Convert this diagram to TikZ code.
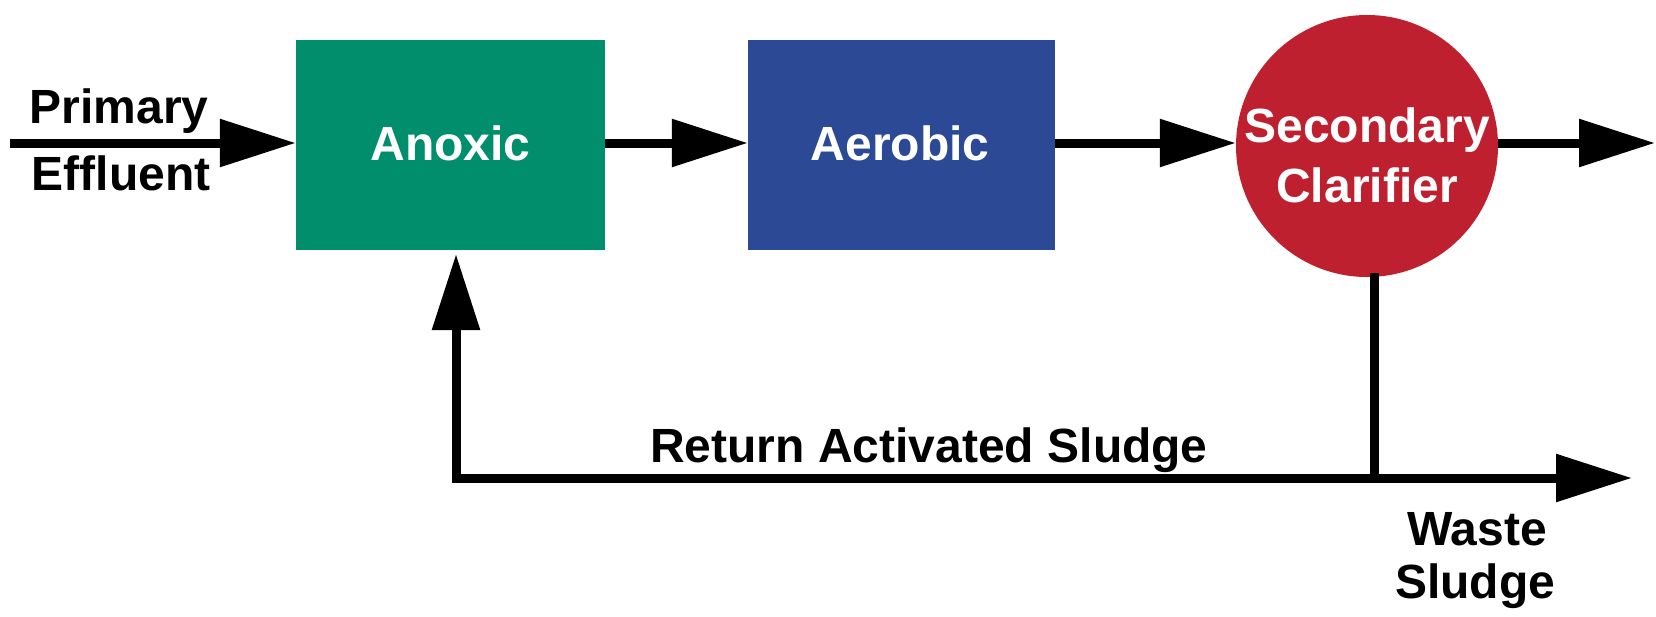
\documentclass[tikz,border=0pt]{standalone}
\usepackage{fontspec}
\setmainfont{Liberation Sans}
\usetikzlibrary{arrows.meta,calc}
\definecolor{anoxgreen}{RGB}{0,142,108}
\definecolor{aerobblue}{RGB}{43,73,148}
\definecolor{clarred}{RGB}{190,32,48}
\tikzset{
  unit/.style={draw=none,inner sep=0pt,text=white,font=\bfseries\fontsize{48}{58}\selectfont},
  lbl/.style={inner sep=0pt,anchor=base,font=\bfseries\fontsize{48}{58}\selectfont},
  flow/.style={line width=9pt,-{Triangle[length=76pt,width=46pt]}},
  pipe/.style={line width=9pt}
}
\begin{document}
\begin{tikzpicture}[x=1pt,y=-1pt]
\useasboundingbox (0,0) rectangle (1656,616);
\node[unit,fill=anoxgreen,minimum width=309pt,minimum height=210pt] (anoxic) at (450.5,145) {};
\node[unit] (anoxictxt) at (450.5,143) {Anoxic};
\node[unit,fill=aerobblue,minimum width=307pt,minimum height=210pt] (aerobic) at (901.5,145) {};
\node[unit] (aerobictxt) at (900,143) {Aerobic};
\node[unit,fill=clarred,circle,minimum size=262pt] (clar) at (1367,146) {};
\node[lbl,text=white] (sec) at (1367,142) {Secondary};
\node[lbl,text=white] (clf) at (1367,202) {Clarifier};
\coordinate (in) at (10,143);
\coordinate (out) at (1655,143);
\coordinate (j) at (1374,478);
\coordinate (ws) at (1632,478);
\coordinate (corner) at (456,478);
\coordinate (rettip) at (456,254);
\draw[flow] (in) -- (in -| anoxic.west);
\draw[flow] (anoxic.east |- 0,143) -- (aerobic.west |- 0,143);
\draw[flow] (aerobic.east |- 0,143) -- (clar.west |- 0,143);
\draw[flow] (clar.east |- 0,143) -- (out);
\draw[pipe] (j |- clar.south) ++(0,-4) -- (j);
\draw[flow] (j) -- (ws);
\draw[flow] (j) -- (corner) -- (rettip);
\node[lbl] (prim) at (119,123) {Primary};
\node[lbl] (eff) at (121,190) {Effluent};
\node[lbl] (ras) at (929,462) {Return Activated Sludge};
\node[lbl] (waste) at (1477,545) {Waste};
\node[lbl] (sludge) at (1475,598) {Sludge};
\end{tikzpicture}
\end{document}
